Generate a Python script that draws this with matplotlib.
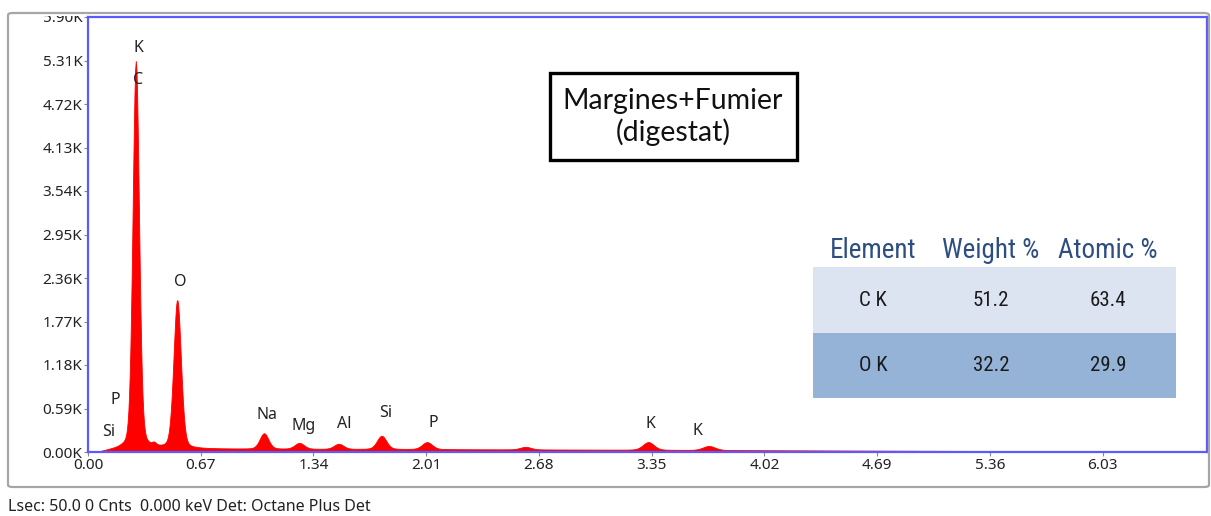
import matplotlib
matplotlib.use('Agg')
import matplotlib.pyplot as plt
import matplotlib.patches as mpatches
from matplotlib.transforms import Bbox
import numpy as np

W, H = 1211, 516

# peak parameters: line energy (keV), apex counts above continuum, width (keV)
peak_kev = [0.284, 0.392, 0.530, 1.046, 1.256, 1.490, 1.745, 2.015, 2.60, 3.330, 3.690]
peak_cts = [5250, 35, 2010, 210, 80, 70, 180, 95, 35, 105, 55]
peak_sig = [0.019, 0.012, 0.022, 0.026, 0.028, 0.028, 0.028, 0.030, 0.032, 0.033, 0.036]

# continuum level
bg_kev = [0.07, 0.12, 0.20, 0.30, 0.60, 1.00, 2.00, 3.00, 4.00, 5.00, 6.00, 6.65]
bg_cts = [0, 20, 45, 50, 45, 42, 38, 32, 24, 16, 10, 8]

# peak labels (text, keV, counts at text centre)
lab_txt = ['K', 'C', 'O', 'P', 'Si', 'Na', 'Mg', 'Al', 'Si', 'P', 'K', 'K']
lab_x = [0.30, 0.30, 0.548, 0.16, 0.125, 1.065, 1.28, 1.52, 1.77, 2.05, 3.345, 3.62]
lab_y = [5480, 5045, 2306, 705, 271, 502, 353, 380, 529, 393, 380, 285]

# quantification table
elements = ['C K', 'O K']
weight_pct = ['51.2', '32.2']
atomic_pct = ['63.4', '29.9']

xticks = [0.00, 0.67, 1.34, 2.01, 2.68, 3.35, 4.02, 4.69, 5.36, 6.03]
yticks = [0, 590, 1180, 1770, 2360, 2950, 3540, 4130, 4720, 5310, 5900]

energy = np.arange(0.0, 6.65, 0.004)
counts = np.interp(energy, bg_kev, bg_cts, left=0)
for c, h, s in zip(peak_kev, peak_cts, peak_sig):
    # gaussian core with a lorentzian skirt, like a detector response
    g = np.exp(-0.5 * ((energy - c) / s) ** 2)
    lz = 1.0 / (1.0 + ((energy - c) / (1.2 * s)) ** 2)
    counts = counts + h * (0.8 * g + 0.2 * lz)

fig = plt.figure(figsize=(W / 100, H / 100), dpi=100)
ax = fig.add_axes([88 / W, 1 - 452 / H, (1207 - 88) / W, (452 - 17) / H])

ax.fill_between(energy, 0, counts, color='#ff0000', lw=0.6, edgecolor='#ff0000')
ax.set_xlim(0, 6.65)
ax.set_ylim(0, 5900)

tick_font = {'family': 'Noto Sans', 'size': 11, 'color': '#222222'}
ax.set_xticks(xticks)
ax.set_xticklabels(['%.2f' % v for v in xticks], fontdict=tick_font)
ax.set_yticks(yticks)
ax.set_yticklabels(['%.2fK' % (v / 1000) for v in yticks], fontdict=tick_font)
ax.tick_params(length=3, width=0.8, color='#888888', pad=1)

for sp in ax.spines.values():
    sp.set_color('#5a5aff')
    sp.set_linewidth(1.6)

for t, x, y in zip(lab_txt, lab_x, lab_y):
    ax.text(x, y, t, ha='center', va='center', family='Noto Sans', fontsize=11.5,
            color='#222222')

# sample name box
fig.text(673 / W, 1 - 117 / H, 'Margines+Fumier\n(digestat)', ha='center', va='center',
         family='Lato', fontsize=20.5, color='#111111', linespacing=1.2)
fig.add_artist(mpatches.Rectangle((550 / W, 1 - 160 / H), (797 - 550) / W, (160 - 73) / H,
                                  transform=fig.transFigure, fill=False,
                                  edgecolor='black', lw=2.4))

# table
row_col = ['#dbe4f0', '#95b3d7']
row_top = [267, 333]
row_h = [66, 65]
col_x = [873, 991, 1108]
for i in range(2):
    fig.add_artist(mpatches.Rectangle((813 / W, 1 - (row_top[i] + row_h[i]) / H),
                                      (1176 - 813) / W, row_h[i] / H,
                                      transform=fig.transFigure, facecolor=row_col[i],
                                      edgecolor='none'))
    for j, val in enumerate([elements[i], weight_pct[i], atomic_pct[i]]):
        fig.text(col_x[j] / W, 1 - (row_top[i] + row_h[i] / 2) / H, val,
                 ha='center', va='center', family='Roboto Condensed',
                 fontsize=15, color='#1a1a1a')
for j, hdr in enumerate(['Element', 'Weight %', 'Atomic %']):
    fig.text(col_x[j] / W, 1 - 250 / H, hdr, ha='center', va='center',
             family='Roboto Condensed', fontsize=19.5, color='#2e4e82')

# outer frame of the viewer
fig.add_artist(mpatches.FancyBboxPatch((8 / W, 1 - 487 / H), (1209 - 8) / W, (487 - 13) / H,
                                       boxstyle='round,pad=0,rounding_size=0.004',
                                       transform=fig.transFigure, fill=False,
                                       edgecolor='#a6a6a6', lw=1.6))

fig.text(8 / W, 1 - 507 / H, 'Lsec: 50.0 0 Cnts  0.000 keV Det: Octane Plus Det',
         ha='left', va='center', family='Noto Sans', fontsize=11.5, color='#222222')

# top tick label sits under the frame edge
fig.canvas.draw()
top_lab = ax.get_yticklabels()[-1]
top_lab.set_clip_on(True)
top_lab.set_clip_box(Bbox([[0, 0], [W, H - 16]]))

fig.savefig('out.png', dpi=100)
